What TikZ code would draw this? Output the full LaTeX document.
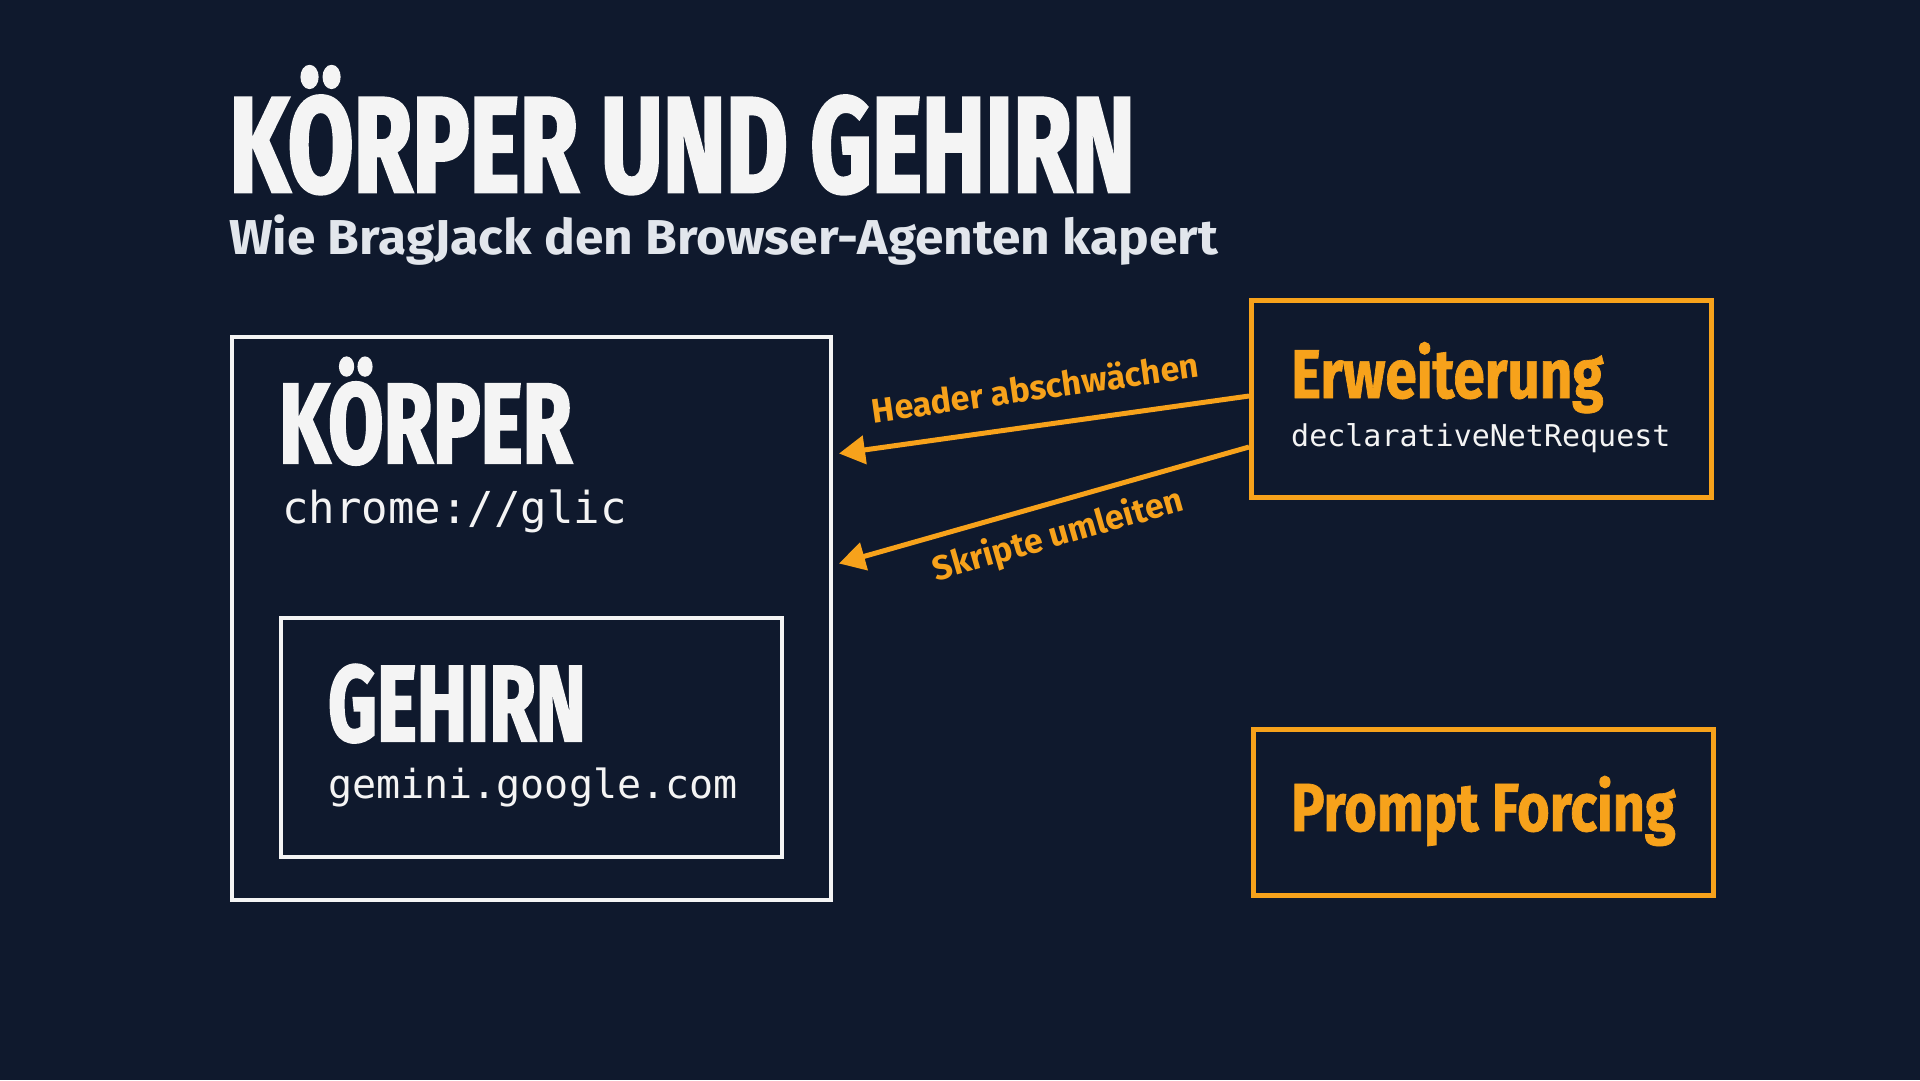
\documentclass[tikz,border=0pt]{standalone}
\usepackage{fontspec}
\setmainfont{Fira Sans}
\setmonofont{DejaVu Sans Mono}
\newfontfamily\headfont[FakeStretch=0.7,FakeBold=2]{Fira Sans}
\newfontfamily\boxfont[FakeStretch=0.82,FakeBold=1]{Fira Sans}
\newfontfamily\subfont[FakeStretch=1.05]{Fira Sans}
\usetikzlibrary{arrows.meta,positioning}

\definecolor{bgnavy}{HTML}{0F192D}
\definecolor{accent}{HTML}{F7A21B}
\definecolor{boxwhite}{HTML}{F4F4F4}
\definecolor{subgrey}{HTML}{E2E6EC}

\tikzset{
	whitebox/.style={draw=boxwhite,line width=4pt,inner sep=0pt,anchor=north west},
	orangebox/.style={draw=accent,line width=5pt,inner sep=0pt,anchor=north west},
	lbl/.style={inner sep=0pt,anchor=base west},
	hijack/.style={draw=accent,line width=5pt,-{Triangle[length=26pt,width=28pt]}},
	tag/.style={inner sep=0pt,text=accent,font=\bfseries\fontsize{34}{34}\selectfont}
}

\begin{document}
\begin{tikzpicture}[x=1pt,y=-1pt,line join=miter]
	\fill[bgnavy] (0,0) rectangle (1920,1080);
	\useasboundingbox (0,0) rectangle (1920,1080);
	% titel
	\node[lbl,text=boxwhite,font=\headfont\bfseries\fontsize{136}{136}\selectfont] (titel) at (229,192) {KÖRPER UND GEHIRN};
	\node[lbl,text=subgrey,font=\subfont\bfseries\fontsize{49}{49}\selectfont] (untertitel) at (229,254) {Wie BragJack den Browser-Agenten kapert};
	% koerper mit gehirn
	\node[whitebox,minimum width=599pt,minimum height=563pt] (koerper) at (230,335) {};
	\node[lbl,text=boxwhite,font=\headfont\bfseries\fontsize{114}{114}\selectfont] (koerpername) at (279,463) {KÖRPER};
	\node[lbl,text=boxwhite,font=\ttfamily\fontsize{44}{44}\selectfont] (koerperurl) at (282,523) {chrome://glic};
	\node[whitebox,minimum width=501pt,minimum height=239pt] (gehirn) at (279,616) {};
	\node[lbl,text=boxwhite,font=\headfont\bfseries\fontsize{108}{108}\selectfont] (gehirnname) at (328,741) {GEHIRN};
	\node[lbl,text=boxwhite,font=\ttfamily\fontsize{40}{40}\selectfont] (gehirnurl) at (328,798) {gemini.google.com};
	% erweiterung
	\node[orangebox,minimum width=460pt,minimum height=197pt] (erw) at (1249,298) {};
	\node[lbl,text=accent,font=\boxfont\bfseries\fontsize{69}{69}\selectfont] (erwname) at (1291,398) {Erweiterung};
	\node[lbl,text=boxwhite,font=\ttfamily\fontsize{30}{30}\selectfont] (erwapi) at (1291,446) {declarativeNetRequest};
	% prompt forcing
	\node[orangebox,minimum width=460pt,minimum height=166pt] (prompt) at (1251,727) {};
	\node[lbl,text=accent,font=\boxfont\bfseries\fontsize{68}{68}\selectfont] (promptname) at (1291,831) {Prompt Forcing};
	% pfeile
	\draw[hijack] ([yshift=3pt]erw.west) -- ([xshift=6pt,yshift=165pt]koerper.east);
	\draw[hijack] ([yshift=-48pt]erw.west) -- ([xshift=6pt,yshift=55pt]koerper.east);
	\node[tag,rotate=8] (header) at (1035,387) {Header abschwächen};
	\node[tag,rotate=16] (skripte) at (1058,536) {Skripte umleiten};
\end{tikzpicture}
\end{document}
